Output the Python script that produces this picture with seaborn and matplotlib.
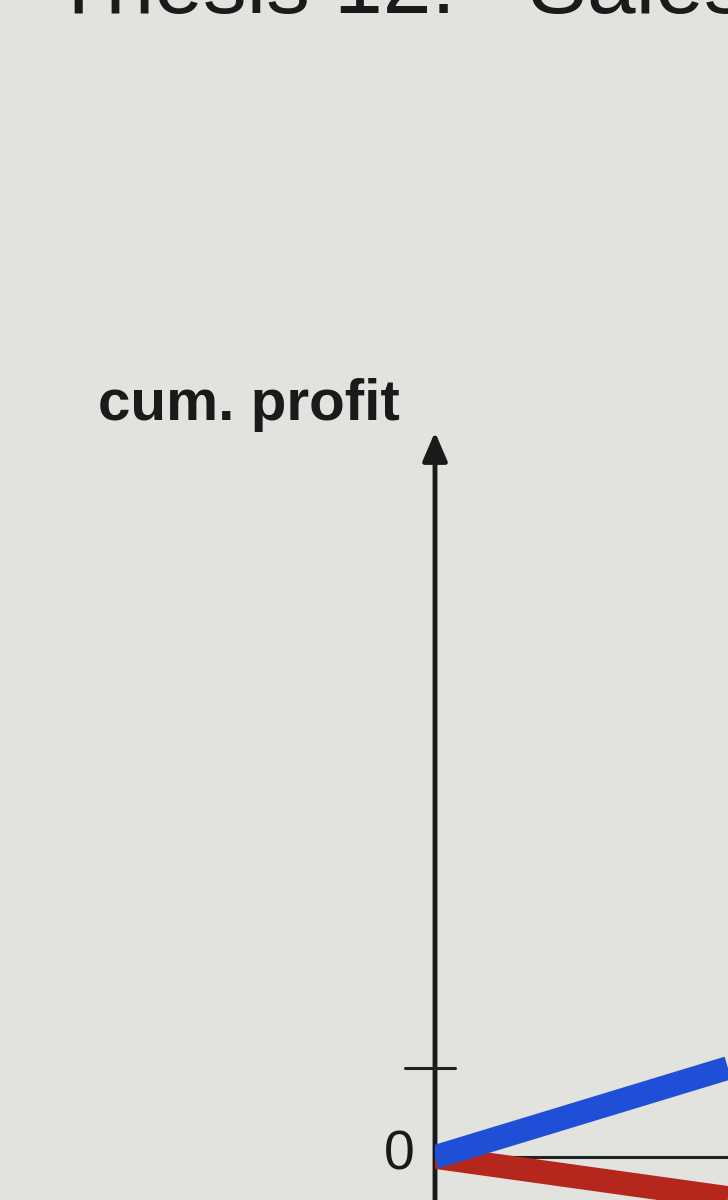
import numpy as np
import pandas as pd
import matplotlib.pyplot as plt
import seaborn as sns

# data (y unit = height of the tick mark above zero)
periods = [0, 1]
profit_blue = [0.0, 1.0]
profit_red = [0.0, -0.46]
series_names = ['red', 'blue']
series_colors = {'blue': '#1f4fd6', 'red': '#b5261c'}
title_text = 'Thesis 12:   Sales'
y_label = 'cum. profit'
zero_label = '0'
tick_value = 1.0

sns.set_theme(style='white')
plt.rcParams['font.family'] = ['Liberation Sans', 'DejaVu Sans']

BG = '#e2e2df'
INK = '#1a1a1a'

df = pd.DataFrame({
    'period': periods * 2,
    'profit': profit_red + profit_blue,
    'series': ['red'] * len(periods) + ['blue'] * len(periods),
})

fig = plt.figure(figsize=(7.28, 12), dpi=100, facecolor=BG)
# axes: origin sits where the hand-drawn axes cross
ax = fig.add_axes([435 / 728, 0, 293 / 728, 768 / 1200])
ax.set_facecolor('none')
y_bot, y_top = -43 / 89, 725 / 89
ax.set_xlim(0, 1)
ax.set_ylim(y_bot, y_top)
for s in ax.spines.values():
    s.set_visible(False)
ax.set_xticks([])
ax.set_yticks([])

# x axis (thin) and y axis with arrow
ax.plot([0, 1], [0, 0], color='#222222', lw=2.2, zorder=1, clip_on=False)
ax.annotate('', xy=(0, y_top), xytext=(0, y_bot),
            arrowprops=dict(arrowstyle='-|>,head_length=0.7,head_width=0.3',
                            color=INK, lw=3.5, mutation_scale=25,
                            shrinkA=0, shrinkB=0),
            annotation_clip=False, zorder=2)
ax.plot([-0.102, 0.068], [tick_value, tick_value], color='#222222', lw=2.2,
        clip_on=False, zorder=2)

sns.lineplot(data=df, x='period', y='profit', hue='series',
             hue_order=series_names, palette=series_colors,
             linewidth=17, legend=False, ax=ax, solid_capstyle='butt',
             zorder=3)
ax.set_xlabel('')
ax.set_ylabel('')

ax.text(-0.123, -0.146, zero_label, fontsize=40, color=INK,
        ha='center', va='baseline', clip_on=False)

fig.text(400 / 728, 1 - 420 / 1200, y_label, fontsize=42, fontweight='bold',
         color=INK, ha='right', va='baseline')
# slide title, mostly cut off by the top edge of the photo
fig.text(52 / 728, 1 - 13 / 1200, title_text, fontsize=63, color=INK,
         ha='left', va='baseline')

fig.savefig('out.png', dpi=100, facecolor=BG)
